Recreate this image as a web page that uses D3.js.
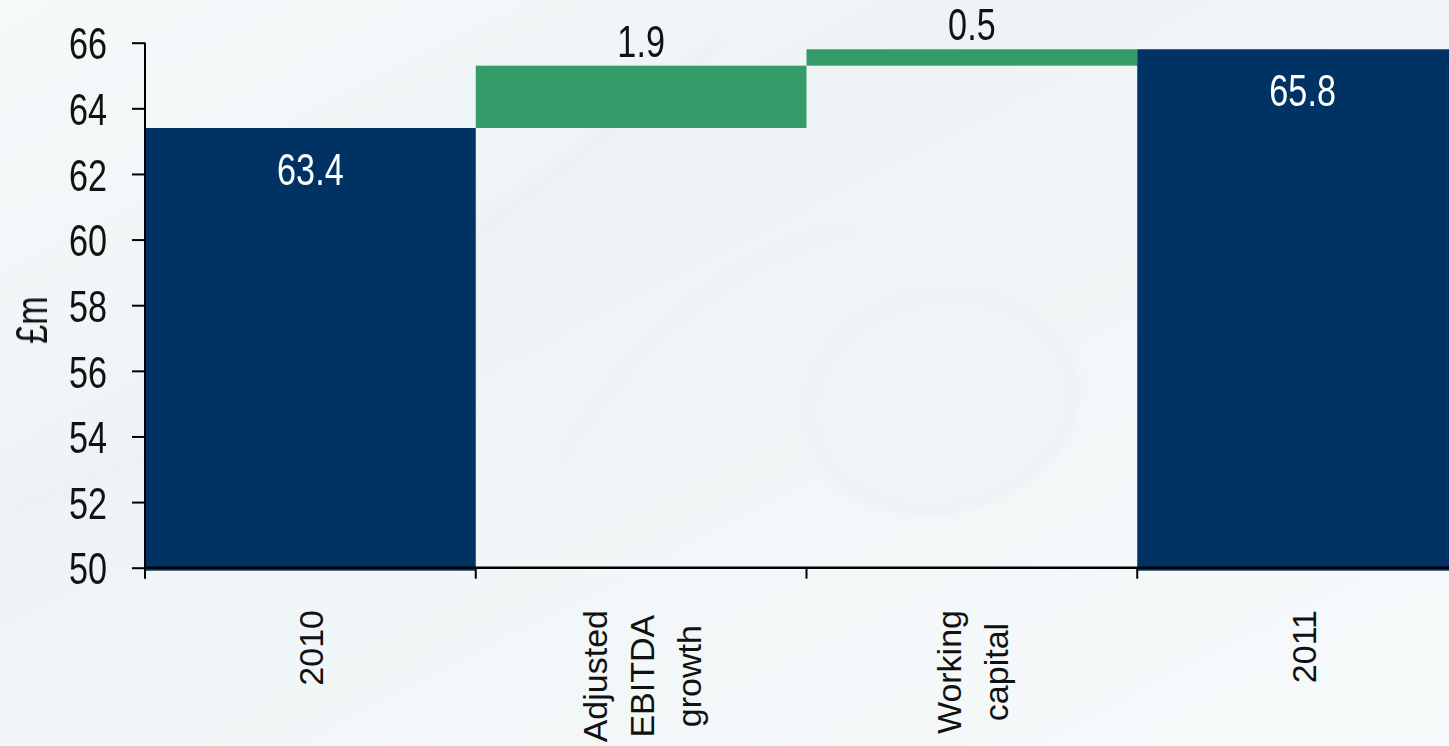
<!DOCTYPE html>
<html>
<head>
<meta charset="utf-8">
<script src="https://cdn.jsdelivr.net/npm/d3@7"></script>
<style>
  html, body { margin: 0; padding: 0; background: #f4f7f9; }
  svg { display: block; }
</style>
</head>
<body>
<svg id="chart" width="1449" height="746"></svg>
<script>
// ---- data ----
const categories = ["2010", "Adjusted EBITDA growth", "Working capital", "2011"];
const categoryLines = [["2010"], ["Adjusted", "EBITDA", "growth"], ["Working", "capital"], ["2011"]];
const values = [63.4, 1.9, 0.5, 65.8];
const barTypes = ["total", "delta", "delta", "total"];
const valueLabels = ["63.4", "1.9", "0.5", "65.8"];
const yTicks = [50, 52, 54, 56, 58, 60, 62, 64, 66];
const yLabel = "£m";

// ---- build waterfall segments ----
let running = 0;
const segs = categories.map((c, i) => {
  let start, end;
  if (barTypes[i] === "total") { start = 50; end = values[i]; running = values[i]; }
  else { start = running; end = running + values[i]; running = end; }
  return { cat: c, lines: categoryLines[i], type: barTypes[i], start, end, label: valueLabels[i] };
});

const svg = d3.select("#chart");
const W = 1449, H = 746;

// ---- background ----
const defs = svg.append("defs");
const bg = defs.append("linearGradient").attr("id", "bg").attr("x1", 0).attr("y1", 0).attr("x2", 1).attr("y2", 1);
bg.append("stop").attr("offset", "0%").attr("stop-color", "#f5f9fa");
bg.append("stop").attr("offset", "35%").attr("stop-color", "#eef4f6");
bg.append("stop").attr("offset", "100%").attr("stop-color", "#f7fafb");
const blur = defs.append("filter").attr("id", "blur").attr("x", "-20%").attr("y", "-20%").attr("width", "140%").attr("height", "140%");
blur.append("feGaussianBlur").attr("stdDeviation", 4);
svg.append("rect").attr("width", W).attr("height", H).attr("fill", "url(#bg)");
const deco = svg.append("g").attr("filter", "url(#blur)").attr("fill", "none");
deco.append("ellipse").attr("cx", 940).attr("cy", 400).attr("rx", 135).attr("ry", 108)
  .attr("transform", "rotate(-12,940,400)")
  .attr("fill", "#eff4f6").attr("stroke", "#e6ecef").attr("stroke-width", 4).attr("opacity", 0.7);
deco.append("path").attr("d", "M470,240 C560,170 640,110 720,40").attr("stroke", "#e4ebee").attr("stroke-width", 6).attr("opacity", 0.6);
deco.append("path").attr("d", "M560,460 C660,300 760,250 850,230").attr("stroke", "#e6ecef").attr("stroke-width", 5).attr("opacity", 0.6);
deco.append("path").attr("d", "M0,520 C80,470 200,440 320,420").attr("stroke", "#ebf0f3").attr("stroke-width", 20).attr("opacity", 0.5);

// ---- scales ----
const x = d3.scaleBand().domain(categories).range([145, 1468]).padding(0);
const y = d3.scaleLinear().domain([50, 66]).range([567.7, 42.7]);

const numFont = "'Liberation Sans', Arial, sans-serif";
const SX = 0.76; // horizontal condensing of the numeric font
const colors = { total: "#003263", delta: "#359b69" };

// ---- bars ----
svg.append("g").selectAll("rect").data(segs).join("rect")
  .attr("x", d => x(d.cat))
  .attr("width", x.bandwidth())
  .attr("y", d => y(Math.max(d.start, d.end)))
  .attr("height", d => Math.abs(y(d.start) - y(d.end)) + (d.type === "total" ? 3 : 0))
  .attr("fill", d => colors[d.type]);

// ---- value labels ----
svg.append("g").selectAll("g").data(segs).join("g")
  .attr("transform", d => `translate(${x(d.cat) + x.bandwidth() / 2},${d.type === "total" ? y(d.end) + 57 : y(d.end) - 9})`)
  .append("text")
  .attr("transform", `scale(${SX},1)`)
  .attr("text-anchor", "middle")
  .attr("font-family", numFont)
  .attr("font-size", 45)
  .attr("fill", d => d.type === "total" ? "#ffffff" : "#111111")
  .text(d => d.label);

// ---- y axis ----
const yAxis = svg.append("g").attr("transform", "translate(145,0)")
  .call(d3.axisLeft(y).tickValues(yTicks).tickSize(13).tickPadding(25).tickFormat(d3.format("d")));
yAxis.select(".domain").attr("stroke", "#000").attr("stroke-width", 2).attr("d", `M0,${y(66)}V${y(50)}`);
yAxis.selectAll(".tick line").attr("stroke", "#000").attr("stroke-width", 2);
yAxis.selectAll(".tick text")
  .attr("font-family", numFont).attr("font-size", 45).attr("fill", "#111")
  .attr("dy", "0.36em")
  .attr("x", -38 / SX)
  .attr("transform", `scale(${SX},1)`);

// ---- x axis ----
const xAxisG = svg.append("g");
xAxisG.append("line").attr("x1", 145).attr("x2", W).attr("y1", y(50)).attr("y2", y(50))
  .attr("stroke", "#000").attr("stroke-width", 2.5);
xAxisG.selectAll("line.tk").data(categories).join("line").attr("class", "tk")
  .attr("x1", d => x(d)).attr("x2", d => x(d))
  .attr("y1", y(50)).attr("y2", y(50) + 11)
  .attr("stroke", "#000").attr("stroke-width", 2);

const lineGap = 47;
const catG = xAxisG.selectAll("g.cat").data(segs).join("g").attr("class", "cat");
catG.each(function(d) {
  const g = d3.select(this);
  const cx = x(d.cat) + x.bandwidth() / 2;
  const n = d.lines.length;
  const texts = d.lines.map((ln, i) => {
    const bx = cx + 13 + (i - (n - 1) / 2) * lineGap;
    return g.append("text")
      .attr("text-anchor", "middle")
      .attr("font-family", "'Liberation Sans', Arial, sans-serif")
      .attr("font-size", 34)
      .attr("fill", "#111")
      .datum(bx)
      .text(ln);
  });
  const maxLen = d3.max(texts, t => t.node().getComputedTextLength());
  const cy = 610 + maxLen / 2;
  texts.forEach(t => t.attr("transform", `translate(${t.datum()},${cy}) rotate(-90)`));
});

// ---- y label ----
svg.append("g").attr("transform", `translate(47,320) rotate(-90)`)
  .append("text")
  .attr("transform", `scale(${SX},1)`)
  .attr("text-anchor", "middle")
  .attr("font-family", numFont)
  .attr("font-size", 45)
  .attr("fill", "#111")
  .text(yLabel);
</script>
</body>
</html>
